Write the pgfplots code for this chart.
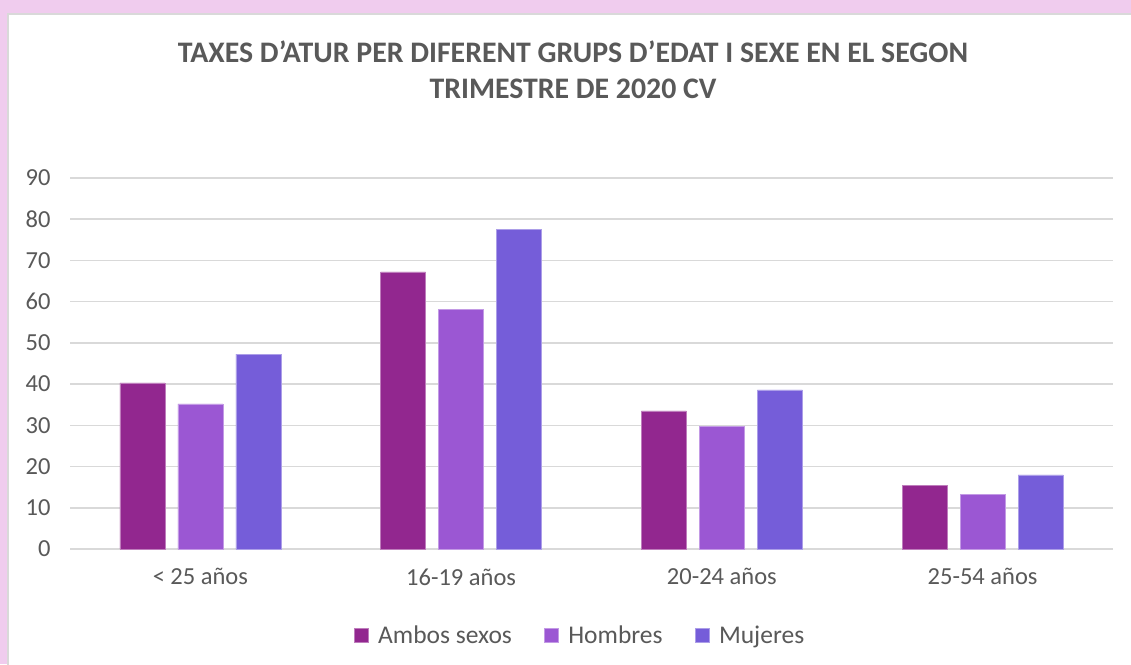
\documentclass[border=0pt]{standalone}
\usepackage{pgfplots}
\pgfplotsset{compat=1.18}
\usepackage{fontspec}
\setmainfont{Carlito}
\definecolor{cA}{HTML}{92278F}
\definecolor{cH}{HTML}{9B57D3}
\definecolor{cM}{HTML}{755DD9}
\definecolor{txt}{HTML}{595959}
\definecolor{gridc}{HTML}{D9D9D9}
\definecolor{pinkbg}{HTML}{F0CCEE}
\begin{document}
\begin{tikzpicture}[x=1pt,y=1pt]
\path[use as bounding box] (0,0) rectangle (1131,664);
\fill[pinkbg] (0,0) rectangle (1131,664);
\fill[white,draw=gridc,line width=1.5pt] (8,-10) rectangle (1140,650);
\node[font=\bfseries\fontsize{29.8}{36}\selectfont,text=txt,align=center] at (573,594) {TAXES D’ATUR PER DIFERENT GRUPS D’EDAT I SEXE EN EL SEGON\\TRIMESTRE DE 2020 CV};
\begin{axis}[
  at={(70pt,115pt)}, anchor=south west,
  width=1043pt, height=371pt, scale only axis,
  xmin=-0.5, xmax=3.5, ymin=0, ymax=90,
  ytick={0,10,...,90},
  xtick={0,1,2,3},
  xticklabels={< 25 años,16-19 años,20-24 años,25-54 años},
  ymajorgrids, xmajorgrids=false,
  y grid style={draw=gridc,line width=1.5pt},
  axis x line*=bottom, axis y line*=left,
  x axis line style={draw=gridc,line width=1.5pt},
  y axis line style={draw=none},
  major tick length=0pt,
  tick label style={font=\fontsize{24.5}{28}\selectfont,text=txt},
  /pgf/number format/assume math mode=true,
  yticklabel style={anchor=east,xshift=-16pt},
  xticklabel style={yshift=-16pt},
  ybar, bar width=45pt,
  legend style={at={(0.489,-0.232)},anchor=center,draw=none,legend columns=3,
    font=\fontsize{25.5}{28}\selectfont,text=txt,
    /tikz/every odd column/.append style={column sep=8pt},
    /tikz/every even column/.append style={column sep=30pt}},
  legend image code/.code={\fill[#1] (0pt,-7pt) rectangle (14pt,7pt);},
  enlarge x limits=false,
  clip=false,
]
\addplot[fill=cA,draw=cA!60!white,bar shift=-58pt] coordinates {(0,40.3) (1,67.2) (2,33.5) (3,15.5)};
\addplot[fill=cH,draw=cH!60!white,bar shift=0pt] coordinates {(0,35.2) (1,58.2) (2,29.8) (3,13.3)};
\addplot[fill=cM,draw=cM!60!white,bar shift=58pt] coordinates {(0,47.3) (1,77.6) (2,38.6) (3,18.0)};
\legend{Ambos sexos,Hombres,Mujeres}
\end{axis}
\end{tikzpicture}
\end{document}
